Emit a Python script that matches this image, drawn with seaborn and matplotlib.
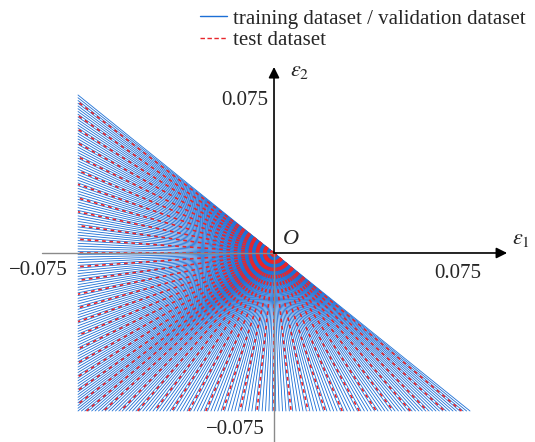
import numpy as np
import pandas as pd
import matplotlib
matplotlib.use('Agg')
import matplotlib.pyplot as plt
import seaborn as sns
from matplotlib.lines import Line2D

# strain limit of the loading paths and the sampling of the paths
eps_max = 0.075
n_paths_per_edge = 115      # training / validation paths on each edge
test_every = 5              # one test path every 5 training paths
tick_value = 0.075
legend_labels = ['training dataset / validation dataset', 'test dataset']

blue = '#1c6fd6'
red = '#e8262b'
dash = (0, (2.2, 2.2))


def edge_point(s):
    # walk along the left edge (top -> bottom) then the bottom edge (left -> right)
    if s <= 2 * eps_max:
        return -eps_max, eps_max - s
    return -eps_max + (s - 2 * eps_max), -eps_max


def make_paths(s_values, name):
    rows = []
    for i, s in enumerate(s_values):
        x, y = edge_point(s)
        rows.append({'eps1': 0.0, 'eps2': 0.0, 'path': i, 'dataset': name})
        rows.append({'eps1': x, 'eps2': y, 'path': i, 'dataset': name})
    return pd.DataFrame(rows)


step = 2 * eps_max / n_paths_per_edge
s_train = np.arange(0, 2 * n_paths_per_edge + 1) * step
n_test = 2 * n_paths_per_edge // test_every
s_test = (np.arange(0, n_test) * test_every + test_every / 2) * step

train_df = make_paths(s_train, 'train')
test_df = make_paths(s_test, 'test')

sns.set_style('white')
plt.rcParams['font.family'] = ['Liberation Serif', 'DejaVu Serif']
plt.rcParams['mathtext.fontset'] = 'stix'

fig = plt.figure(figsize=(5.35, 4.42), dpi=100)
ax = fig.add_axes([0, 0, 1, 1])

sns.lineplot(data=train_df, x='eps1', y='eps2', units='path', estimator=None,
             sort=False, color=blue, lw=0.6, legend=False, ax=ax)
sns.lineplot(data=test_df, x='eps1', y='eps2', units='path', estimator=None,
             sort=False, color=red, lw=1.2, linestyle=dash,
             legend=False, ax=ax)

# pixel -> data mapping of the original figure
ax.set_xlim(-0.10485, 0.09987)
ax.set_ylim(-0.08972, 0.12009)
ax.axis('off')

# axes: negative halves grey, positive halves black with arrows
ax.plot([-0.0888, 0], [0, 0], color='#8a8a8a', lw=1.0, zorder=5)
ax.plot([0, 0], [-0.0897, 0], color='#8a8a8a', lw=1.0, zorder=5)
ax.annotate('', xy=(0.0892, 0), xytext=(0, 0),
            arrowprops=dict(arrowstyle='-|>', color='k', lw=1.2, mutation_scale=16,
                            shrinkA=0, shrinkB=0), zorder=6)
ax.annotate('', xy=(0, 0.0883), xytext=(0, 0),
            arrowprops=dict(arrowstyle='-|>', color='k', lw=1.2, mutation_scale=16,
                            shrinkA=0, shrinkB=0), zorder=6)

ax.text(0.0034, 0.0062, 'O', fontsize=16, style='italic', ha='left', va='center')
ax.text(0.0912, 0.0062, r'$\varepsilon_1$', fontsize=16, ha='left', va='center')
ax.text(0.0062, 0.0862, r'$\varepsilon_2$', fontsize=16, ha='left', va='center')

fs = 15
ax.text(-0.0111, 0.0726, f'{tick_value:.3f}', fontsize=fs, ha='center', va='center')
ax.text(0.0704, -0.0095, f'{tick_value:.3f}', fontsize=fs, ha='center', va='center')
ax.text(-0.0903, -0.0081, f'\u2212{tick_value:.3f}', fontsize=fs, ha='center', va='center')
ax.text(-0.0149, -0.0840, f'\u2212{tick_value:.3f}', fontsize=fs, ha='center', va='center')

handles = [Line2D([], [], color=blue, lw=1.0),
           Line2D([], [], color=red, lw=1.0, linestyle=(0, (3.2, 1.8)))]
fig.legend(handles, legend_labels, loc='upper left',
           bbox_to_anchor=(200 / 535, 1 - 9 / 442), frameon=False, fontsize=fs,
           handlelength=1.3, handletextpad=0.3, labelspacing=0.1,
           borderpad=0, borderaxespad=0)

fig.savefig('out.png', dpi=100)
